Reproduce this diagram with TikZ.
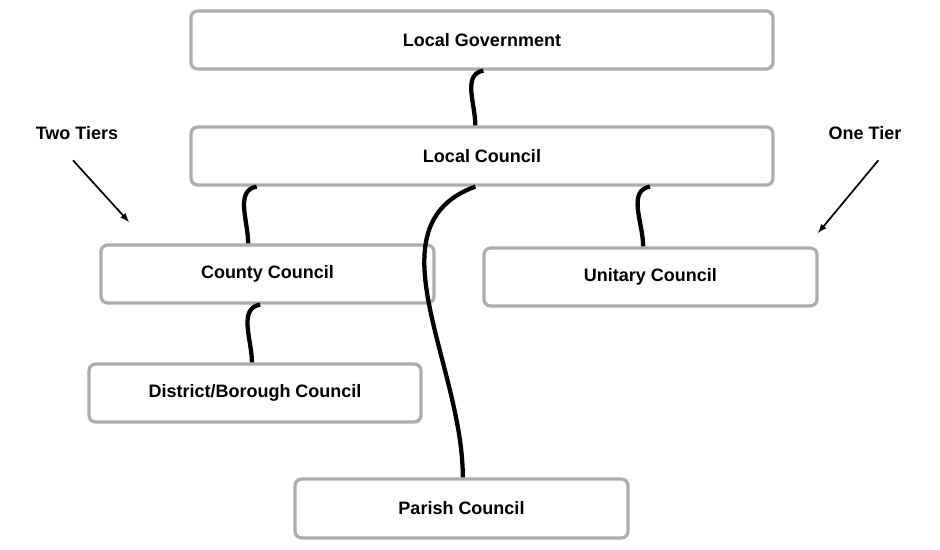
\documentclass[tikz,border=0pt]{standalone}
\usepackage{fontspec}
\setmainfont{Liberation Sans}
\begin{document}
\begin{tikzpicture}[x=0.75pt,y=-0.75pt,
  box/.style={draw=gray!65,line width=2.4pt,rounded corners=5pt,fill=white,font=\fontsize{13.5}{16}\selectfont\bfseries},
  link/.style={line width=3.2pt,black},
  lbl/.style={font=\fontsize{13.5}{16}\selectfont\bfseries},
  arr/.style={-latex,line width=1.3pt}]
\useasboundingbox (0,0) rectangle (940,550);
\node[box,minimum width=582*0.75pt,minimum height=58*0.75pt] (lg) at (482,40) {Local Government};
\node[box,minimum width=582*0.75pt,minimum height=58*0.75pt] (lc) at (482,156) {Local Council};
\node[box,minimum width=333*0.75pt,minimum height=58*0.75pt] (cc) at (267.5,274) {County Council};
\node[box,minimum width=333*0.75pt,minimum height=58*0.75pt] (uc) at (650.5,277) {Unitary Council};
\node[box,minimum width=332*0.75pt,minimum height=58*0.75pt] (dc) at (255,393) {District/Borough Council};
\node[box,minimum width=333*0.75pt,minimum height=59*0.75pt] (pc) at (461.5,508.5) {Parish Council};
\draw[link] ([xshift=1pt]lg.south) to[out=190,in=90] ([xshift=-5pt]lc.north);
\draw[link] ([xshift=-169pt]lc.south) to[out=190,in=90] ([xshift=-14.5pt]cc.north);
\draw[link] ([xshift=126pt]lc.south) to[out=190,in=90] ([xshift=-5.5pt]uc.north);
\draw[link] ([xshift=-5pt]lc.south) to[out=200,in=90] ([xshift=1pt]pc.north);
\draw[link] ([xshift=-5.5pt]cc.south) to[out=190,in=90] ([xshift=-2.3pt]dc.north);
\node[lbl] (two) at (77,133) {Two Tiers};
\node[lbl] (one) at (865,133) {One Tier};
\coordinate (twoend) at (129,222);
\coordinate (oneend) at (818,233);
\draw[arr] ([xshift=-3pt,yshift=-12pt]two.south) -- (twoend);
\draw[arr] ([xshift=10pt,yshift=-12pt]one.south) -- (oneend);
\end{tikzpicture}
\end{document}
